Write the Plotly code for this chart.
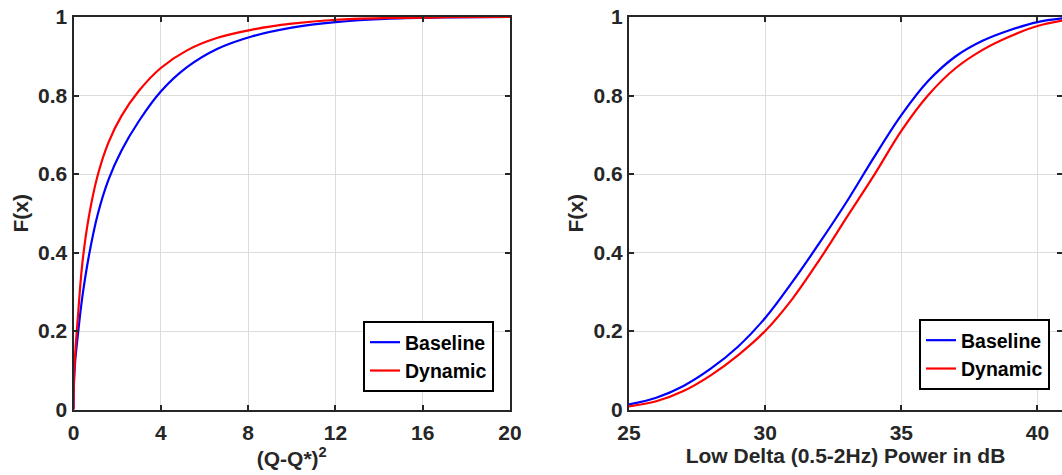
import plotly.graph_objects as go

# ---------------- data ----------------
# Left panel: CDF of (Q-Q*)^2
left_x = [0, 0.02, 0.08, 0.2, 0.4, 0.7, 1.1, 1.6, 2.2, 3.0, 4.0, 5.2, 6.6, 8.2, 10, 12, 14.5, 17, 20]
left_base_y = [0, 0.065, 0.125, 0.19, 0.285, 0.39, 0.495, 0.585, 0.66, 0.735, 0.81, 0.872,
               0.919, 0.951, 0.973, 0.987, 0.9955, 0.9988, 1.0]
left_dyn_y = [0, 0.075, 0.145, 0.235, 0.37, 0.49, 0.595, 0.68, 0.748, 0.812, 0.87, 0.915,
              0.947, 0.968, 0.983, 0.993, 0.9975, 0.9993, 1.0]

# Right panel: CDF of low delta power (dB)
right_x = [25, 26, 27, 28, 29, 30, 31, 32, 33, 34, 35, 36, 37, 38, 39, 40, 41]
right_base_y = [0.013, 0.03, 0.06, 0.104, 0.16, 0.233, 0.325, 0.425, 0.53, 0.643, 0.75, 0.838,
                0.9, 0.94, 0.967, 0.987, 0.997]
right_dyn_y = [0.008, 0.021, 0.047, 0.087, 0.138, 0.2, 0.282, 0.382, 0.49, 0.597, 0.71, 0.802,
               0.87, 0.917, 0.951, 0.977, 0.992]

series_names = ["Baseline", "Dynamic"]
series_colors = ["#0000ff", "#ff0000"]

left_xticks = [0, 4, 8, 12, 16, 20]
right_xticks = [25, 30, 35, 40]
y_ticks = [0, 0.2, 0.4, 0.6, 0.8, 1]
y_ticktext = ["0", "0.2", "0.4", "0.6", "0.8", "1"]

left_xtitle = "(Q-Q*)<sup>2</sup>"
right_xtitle = "Low Delta (0.5-2Hz) Power in dB"
y_title = "F(x)"

# ---------------- figure ----------------
W, H = 1062, 475
fig = go.Figure()

line_w = 2.2
fig.add_trace(go.Scatter(x=left_x, y=left_base_y, mode="lines", name=series_names[0],
                         line=dict(color=series_colors[0], width=line_w, shape="spline", smoothing=1.0),
                         xaxis="x", yaxis="y", legend="legend"))
fig.add_trace(go.Scatter(x=left_x, y=left_dyn_y, mode="lines", name=series_names[1],
                         line=dict(color=series_colors[1], width=line_w, shape="spline", smoothing=1.0),
                         xaxis="x", yaxis="y", legend="legend"))
fig.add_trace(go.Scatter(x=right_x, y=right_base_y, mode="lines", name=series_names[0],
                         line=dict(color=series_colors[0], width=line_w, shape="spline", smoothing=1.0),
                         xaxis="x2", yaxis="y2", legend="legend2"))
fig.add_trace(go.Scatter(x=right_x, y=right_dyn_y, mode="lines", name=series_names[1],
                         line=dict(color=series_colors[1], width=line_w, shape="spline", smoothing=1.0),
                         xaxis="x2", yaxis="y2", legend="legend2"))

txt_col = "#262626"
fam = "Liberation Sans, Arial, sans-serif"
font_tick = dict(family=fam, size=21, color=txt_col, weight="bold")
font_title = dict(family=fam, size=21, color=txt_col, weight="bold")
font_leg = dict(family=fam, size=19.5, color="#000000", weight="bold")

y_dom = [1 - 409.5 / H, 1 - 17 / H]
left_dom = [73.5 / W, 510 / W]
right_dom = [629 / W, 1.0]

axis_common = dict(showline=True, linecolor=txt_col, linewidth=2, mirror="ticks",
                   ticks="inside", ticklen=5, tickwidth=2, tickcolor=txt_col,
                   showgrid=True, gridcolor="#dcdcdc", gridwidth=1.3, zeroline=False,
                   tickfont=font_tick, fixedrange=True, automargin=False)

fig.update_layout(
    width=W, height=H,
    margin=dict(l=0, r=0, t=0, b=0),
    paper_bgcolor="white", plot_bgcolor="white",
    font=font_tick,
    xaxis=dict(domain=left_dom, range=[0, 20], tickvals=left_xticks, anchor="y",
               ticklabelstandoff=3,
               title=dict(text=left_xtitle, font=font_title, standoff=6), **axis_common),
    yaxis=dict(domain=y_dom, range=[0, 1], tickvals=y_ticks, ticktext=y_ticktext, anchor="x",
               title=dict(text=y_title, font=font_title, standoff=4), **axis_common),
    xaxis2=dict(domain=right_dom, range=[25, 40.9], tickvals=right_xticks, anchor="y2",
                ticklabelstandoff=3,
                title=dict(text=right_xtitle, font=font_title, standoff=6), **axis_common),
    yaxis2=dict(domain=y_dom, range=[0, 1], tickvals=y_ticks, ticktext=y_ticktext, anchor="x2",
                title=dict(text=y_title, font=font_title, standoff=4), **axis_common),
    legend=dict(x=494 / W, y=1 - 392 / H, xanchor="right", yanchor="bottom",
                bgcolor="white", bordercolor="#000000", borderwidth=2,
                font=font_leg, tracegroupgap=0, itemwidth=30),
    legend2=dict(x=1050 / W, y=1 - 390 / H, xanchor="right", yanchor="bottom",
                 bgcolor="white", bordercolor="#000000", borderwidth=2,
                 font=font_leg, tracegroupgap=0, itemwidth=30),
    showlegend=True,
)

fig.write_html("out.html")
